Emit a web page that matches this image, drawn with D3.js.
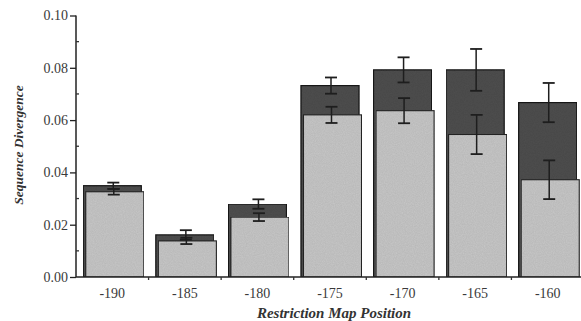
<!DOCTYPE html>
<html><head><meta charset="utf-8">
<script src="https://cdn.jsdelivr.net/npm/d3@7"></script>
<style>html,body{margin:0;padding:0;background:#fff;}svg{display:block;}</style>
</head><body>
<script>
const categories = ["-190","-185","-180","-175","-170","-165","-160"];
const totalValues = [0.0349, 0.0161, 0.0279, 0.0732, 0.0792, 0.0792, 0.0667];
const totalErrors = [0.0012, 0.0018, 0.0018, 0.0031, 0.0048, 0.0080, 0.0075];
const lowerValues = [0.0326, 0.0138, 0.0229, 0.0620, 0.0636, 0.0545, 0.0372];
const lowerErrors = [0.0011, 0.0012, 0.0015, 0.0031, 0.0048, 0.0075, 0.0074];
const yTicks = [0, 0.02, 0.04, 0.06, 0.08, 0.10];
const yMinorTicks = [0.01, 0.03, 0.05, 0.07, 0.09];

const W = 581, H = 321;
const svg = d3.select("body").append("svg").attr("width", W).attr("height", H);

const x = d3.scaleBand().domain(categories).range([76, 584]).paddingInner(0.2).paddingOuter(0.1);
const y = d3.scaleLinear().domain([0, 0.10]).range([277, 15.5]);

const data = categories.map((c, i) => ({c, t: totalValues[i], te: totalErrors[i], l: lowerValues[i], le: lowerErrors[i]}));

// grain filter
const defs = svg.append("defs");
const f = defs.append("filter").attr("id", "grain").attr("x", 0).attr("y", 0).attr("width", 1).attr("height", 1);
f.append("feTurbulence").attr("type", "fractalNoise").attr("baseFrequency", 0.9).attr("numOctaves", 2).attr("seed", 3).attr("result", "noise");
f.append("feColorMatrix").attr("in", "noise").attr("type", "matrix")
  .attr("values", "0 0 0 0 0  0 0 0 0 0  0 0 0 0 0  0 0 0 0.18 0").attr("result", "dots");
f.append("feComposite").attr("in", "dots").attr("in2", "SourceGraphic").attr("operator", "in").attr("result", "d2");
f.append("feMerge").selectAll("feMergeNode").data(["SourceGraphic", "d2"]).join("feMergeNode").attr("in", d => d);

const bw = x.bandwidth();
const off = 2.5;

// dark (total) bars
svg.append("g").selectAll("rect").data(data).join("rect")
  .attr("x", d => x(d.c))
  .attr("y", d => y(d.t))
  .attr("width", bw)
  .attr("height", d => y(0) - y(d.t))
  .attr("fill", "#4f4f4f")
  .attr("stroke", "#1a1a1a").attr("stroke-width", 1.2)
  .attr("filter", "url(#grain)");

// light (lower) bars
svg.append("g").selectAll("rect").data(data).join("rect")
  .attr("x", d => x(d.c) + off)
  .attr("y", d => y(d.l))
  .attr("width", bw)
  .attr("height", d => y(0) - y(d.l))
  .attr("fill", "#c7c7c7")
  .attr("stroke", "#262626").attr("stroke-width", 1.1)
  .attr("filter", "url(#grain)");

// error bars
function errBars(cls, val, err, dx) {
  const g = svg.append("g").attr("stroke", "#1e1e1e").attr("fill", "none");
  data.forEach(d => {
    const cx = x(d.c) + bw / 2 + dx;
    const v = d[val], e = d[err];
    g.append("line").attr("x1", cx).attr("x2", cx).attr("y1", y(v + e)).attr("y2", y(v - e)).attr("stroke-width", 1.5);
    [v + e, v - e].forEach(yy => {
      g.append("line").attr("x1", cx - 6).attr("x2", cx + 6).attr("y1", y(yy)).attr("y2", y(yy)).attr("stroke-width", 1.8);
    });
  });
}
errBars("t", "t", "te", 1);
errBars("l", "l", "le", 1.5);

// y axis
const yAxis = d3.axisLeft(y).tickValues(yTicks).tickFormat(d3.format(".2f")).tickSize(6).tickPadding(2);
const ga = svg.append("g").attr("transform", "translate(76,0)").call(yAxis);
ga.select(".domain").attr("stroke", "#222").attr("stroke-width", 1.5).attr("d", "M0,15.5V277");
ga.selectAll(".tick line").attr("stroke", "#222").attr("stroke-width", 1.3);
ga.selectAll(".tick text").attr("font-family", "Liberation Serif").attr("font-size", 14).attr("fill", "#3a3a3a");
svg.append("g").selectAll("line").data(yMinorTicks).join("line")
  .attr("x1", 76).attr("x2", 79).attr("y1", d => y(d)).attr("y2", d => y(d))
  .attr("stroke", "#333").attr("stroke-width", 1.3);

// x axis
const xAxis = d3.axisBottom(x).tickSize(0).tickPadding(11);
const gx = svg.append("g").attr("transform", "translate(0,277)").call(xAxis);
gx.select(".domain").attr("stroke", "#222").attr("stroke-width", 1.5).attr("d", "M76,0H581");
gx.selectAll(".tick text").attr("font-family", "Liberation Serif").attr("font-size", 14).attr("fill", "#3a3a3a");
// boundary minor ticks
svg.append("g").selectAll("line").data(categories.slice(1)).join("line")
  .attr("x1", d => x(d) - x.step() * x.paddingInner() / 2)
  .attr("x2", d => x(d) - x.step() * x.paddingInner() / 2)
  .attr("y1", 277).attr("y2", 280)
  .attr("stroke", "#333").attr("stroke-width", 1.3);

// labels
svg.append("text").attr("transform", "translate(23,145) rotate(-90)")
  .attr("text-anchor", "middle").attr("font-family", "Liberation Serif")
  .attr("font-style", "italic").attr("font-weight", "bold").attr("font-size", 13.5)
  .attr("fill", "#333").text("Sequence Divergence");
svg.append("text").attr("x", 334).attr("y", 318)
  .attr("text-anchor", "middle").attr("font-family", "Liberation Serif")
  .attr("font-style", "italic").attr("font-weight", "bold").attr("font-size", 15)
  .attr("fill", "#333").text("Restriction Map Position");
</script>
</body></html>
